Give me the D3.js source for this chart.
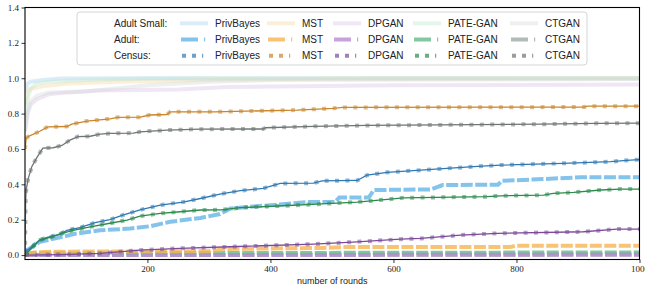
<!DOCTYPE html>
<html><head><meta charset="utf-8">
<script src="https://cdn.jsdelivr.net/npm/d3@7"></script>
<style>body{margin:0;background:#fff}svg{display:block}</style>
</head><body><svg id="c" width="645" height="289"></svg>
<script>
// ---------- data ----------
const methods = ["PrivBayes","MST","DPGAN","PATE-GAN","CTGAN"];
const datasets = ["Adult Small:","Adult:","Census:"];
const xTicks = [200,400,600,800,1000];
const yTicks = [0,0.2,0.4,0.6,0.8,1.0,1.2,1.4];

// Adult Small [round, value]
const asPrivBayes = [[1,0.92],[5,0.97],[10,0.98],[30,0.99],[60,0.998],[200,1.0],[1000,1.0]];
const asMST = [[1,0.85],[5,0.92],[10,0.94],[30,0.955],[70,0.97],[150,0.98],[300,0.99],[500,0.997],[1000,1.0]];
const asDPGAN = [[1,0.70],[5,0.80],[10,0.85],[20,0.88],[40,0.91],[70,0.92],[120,0.93],[250,0.937],[330,0.95],[600,0.96],[1000,0.965]];
const asPATEGAN = [[1,0.75],[5,0.88],[10,0.94],[20,0.97],[40,0.98],[100,0.99],[200,0.998],[1000,1.0]];
const asCTGAN = [[1,0.70],[5,0.80],[10,0.87],[20,0.90],[40,0.92],[100,0.925],[200,0.96],[300,0.98],[400,0.99],[1000,0.995]];

// Adult
const adPrivBayes = [[1,0.02],[25,0.075],[58,0.10],[82,0.12],[123,0.14],[172,0.15],[204,0.163],[237,0.188],[286,0.21],[318,0.232],[335,0.264],[420,0.288],[460,0.30],[505,0.30],[512,0.326],[560,0.326],[568,0.368],[660,0.371],[680,0.396],[770,0.398],[776,0.42],[843,0.43],[904,0.44],[1000,0.44]];
const adMST = [[1,0.0],[15,0.015],[40,0.019],[300,0.022],[330,0.035],[480,0.04],[520,0.045],[650,0.045],[790,0.046],[800,0.053],[1000,0.053]];
const adDPGAN = [[1,0.0],[1000,0.002]];
const adPATEGAN = [[1,0.0],[10,0.01],[1000,0.015]];
const adCTGAN = [[1,0.0],[1000,0.003]];

// Census
const cePrivBayes = [[1,0.015],[25,0.085],[37,0.10],[58,0.117],[69,0.14],[90,0.155],[115,0.183],[139,0.20],[160,0.226],[188,0.255],[221,0.283],[258,0.30],[286,0.32],[318,0.345],[351,0.364],[388,0.377],[416,0.405],[470,0.407],[484,0.42],[541,0.422],[557,0.452],[590,0.468],[644,0.48],[730,0.50],[774,0.509],[876,0.519],[953,0.528],[985,0.537],[1000,0.54]];
const ceMST = [[1,0.60],[3,0.66],[6,0.67],[25,0.70],[38,0.725],[69,0.727],[77,0.74],[102,0.758],[139,0.77],[152,0.779],[188,0.78],[204,0.792],[232,0.795],[237,0.81],[310,0.81],[443,0.82],[502,0.83],[518,0.835],[910,0.837],[915,0.842],[1000,0.842]];
const ceDPGAN = [[1,0.0],[60,0.003],[123,0.01],[188,0.028],[253,0.038],[335,0.047],[470,0.062],[541,0.075],[611,0.09],[644,0.094],[709,0.113],[769,0.123],[909,0.132],[963,0.147],[1000,0.147]];
const cePATEGAN = [[1,0.0],[14,0.047],[25,0.085],[42,0.10],[58,0.12],[79,0.14],[107,0.16],[139,0.18],[167,0.198],[188,0.22],[221,0.236],[253,0.245],[286,0.255],[320,0.256],[351,0.268],[421,0.279],[476,0.288],[541,0.30],[590,0.315],[616,0.324],[752,0.33],[774,0.335],[844,0.339],[860,0.349],[893,0.355],[937,0.368],[969,0.373],[1000,0.373]];
const ceCTGAN = [[1,0.0],[2,0.31],[3,0.37],[6,0.43],[12,0.50],[20,0.55],[30,0.605],[47,0.607],[61,0.62],[74,0.65],[87,0.67],[107,0.672],[123,0.684],[139,0.688],[177,0.69],[188,0.697],[232,0.707],[286,0.712],[388,0.713],[392,0.72],[470,0.728],[557,0.733],[839,0.74],[932,0.745],[1000,0.746]];

// ---------- styles ----------
const colAS = ["#a9d2f0","#f9d8a8","#dcc6ea","#bfe6cf","#d6dada"];
const colAD = ["#62b2e6","#f7b24e","#b689cf","#5dba88","#9ea6a6"];
const colCE = ["#2f79b3","#c9852a","#7b4b99","#2c8a4c","#6f7474"];

const seriesAS = [asPrivBayes,asMST,asDPGAN,asPATEGAN,asCTGAN];
const seriesAD = [adPrivBayes,adMST,adDPGAN,adPATEGAN,adCTGAN];
const seriesCE = [cePrivBayes,ceMST,ceDPGAN,cePATEGAN,ceCTGAN];

const W=645,H=289, L=25, R=639.5, T=7.5, B=259.5;
const svg = d3.select("#c");
const x = d3.scaleLinear().domain([1,1000]).range([L,R]);
const y = d3.scaleLinear().domain([-0.025,1.4]).range([B,T]);

svg.append("defs").append("clipPath").attr("id","clip")
  .append("rect").attr("x",L).attr("y",T).attr("width",R-L).attr("height",B-T);

const line = d3.line().x(d=>x(d[0])).y(d=>y(d[1]));
const g = svg.append("g").attr("clip-path","url(#clip)");

// Adult Small: faint thick solid
seriesAS.forEach((s,i)=>{
  g.append("path").attr("d",line(s)).attr("fill","none")
   .attr("stroke",colAS[i]).attr("stroke-width",4).attr("stroke-opacity",0.42);
});
// Adult: thick dashed
seriesAD.slice().reverse().forEach((s,j)=>{
  const i = 4-j;
  g.append("path").attr("d",line(s)).attr("fill","none")
   .attr("stroke",colAD[i]).attr("stroke-width",4).attr("stroke-opacity",0.78)
   .attr("stroke-dasharray","12,2.5");
});
// Census: thin solid + square dots
seriesCE.forEach((s,i)=>{
  g.append("path").attr("d",line(s)).attr("fill","none")
   .attr("stroke",colCE[i]).attr("stroke-width",4).attr("stroke-opacity",0.55)
   .attr("stroke-dasharray","4,6.4");
  g.append("path").attr("d",line(s)).attr("fill","none")
   .attr("stroke",colCE[i]).attr("stroke-width",1.3);
});

// ---------- axes ----------
const yAxis = d3.axisLeft(y).tickValues(yTicks).tickSize(3.5).tickPadding(2.5).tickFormat(d3.format(".1f"));
const xAxis = d3.axisBottom(x).tickValues(xTicks).tickSize(3.5).tickPadding(2.5).tickFormat(d3.format("d"));
const ya = svg.append("g").attr("transform",`translate(${L},0)`).call(yAxis);
const xa = svg.append("g").attr("transform",`translate(0,${B})`).call(xAxis);
[ya,xa].forEach(a=>{
  a.select(".domain").remove();
  a.selectAll(".tick line").attr("stroke","#000").attr("stroke-width",0.8);
  a.selectAll(".tick text").attr("font-family","'Liberation Serif', serif").attr("font-size",9).attr("fill","#222");
});
svg.append("rect").attr("x",L).attr("y",T).attr("width",R-L).attr("height",B-T)
  .attr("fill","none").attr("stroke","#000").attr("stroke-width",1.1);

svg.append("text").attr("x",(L+R)/2).attr("y",284).attr("text-anchor","middle")
  .attr("font-family","'Liberation Sans', sans-serif").attr("font-size",9).attr("fill","#222")
  .text("number of rounds");

// ---------- legend ----------
const lg = svg.append("g");
lg.append("rect").attr("x",77).attr("y",12).attr("width",510).attr("height",53).attr("rx",3)
  .attr("fill","#fff").attr("fill-opacity",0.85).attr("stroke","#d5d5d5").attr("stroke-width",1);
const rowY = [23.3,39.5,55.7];
const handleX = [180,267,333,413,510];
const lfont = "'Liberation Sans', sans-serif";
datasets.forEach((ds,r)=>{
  lg.append("text").attr("x",114).attr("y",rowY[r]).attr("dy","0.35em")
    .attr("font-family",lfont).attr("font-size",10).attr("fill","#222").text(ds);
});
methods.forEach((m,i)=>{
  const hx = handleX[i];
  lg.append("line").attr("x1",hx).attr("x2",hx+28).attr("y1",rowY[0]).attr("y2",rowY[0])
    .attr("stroke",colAS[i]).attr("stroke-width",4).attr("stroke-opacity",0.42);
  lg.append("line").attr("x1",hx+1).attr("x2",hx+28).attr("y1",rowY[1]).attr("y2",rowY[1])
    .attr("stroke",colAD[i]).attr("stroke-width",4).attr("stroke-opacity",0.78)
    .attr("stroke-dasharray","17,6,1.2,40");
  lg.append("line").attr("x1",hx+2).attr("x2",hx+28).attr("y1",rowY[2]).attr("y2",rowY[2])
    .attr("stroke",colCE[i]).attr("stroke-width",4).attr("stroke-opacity",0.7)
    .attr("stroke-dasharray","4,6,4,6,1.2,40");
  datasets.forEach((ds,r)=>{
    lg.append("text").attr("x",hx+35).attr("y",rowY[r]).attr("dy","0.35em")
      .attr("font-family",lfont).attr("font-size",10).attr("fill","#222").text(m);
  });
});
</script></body></html>
